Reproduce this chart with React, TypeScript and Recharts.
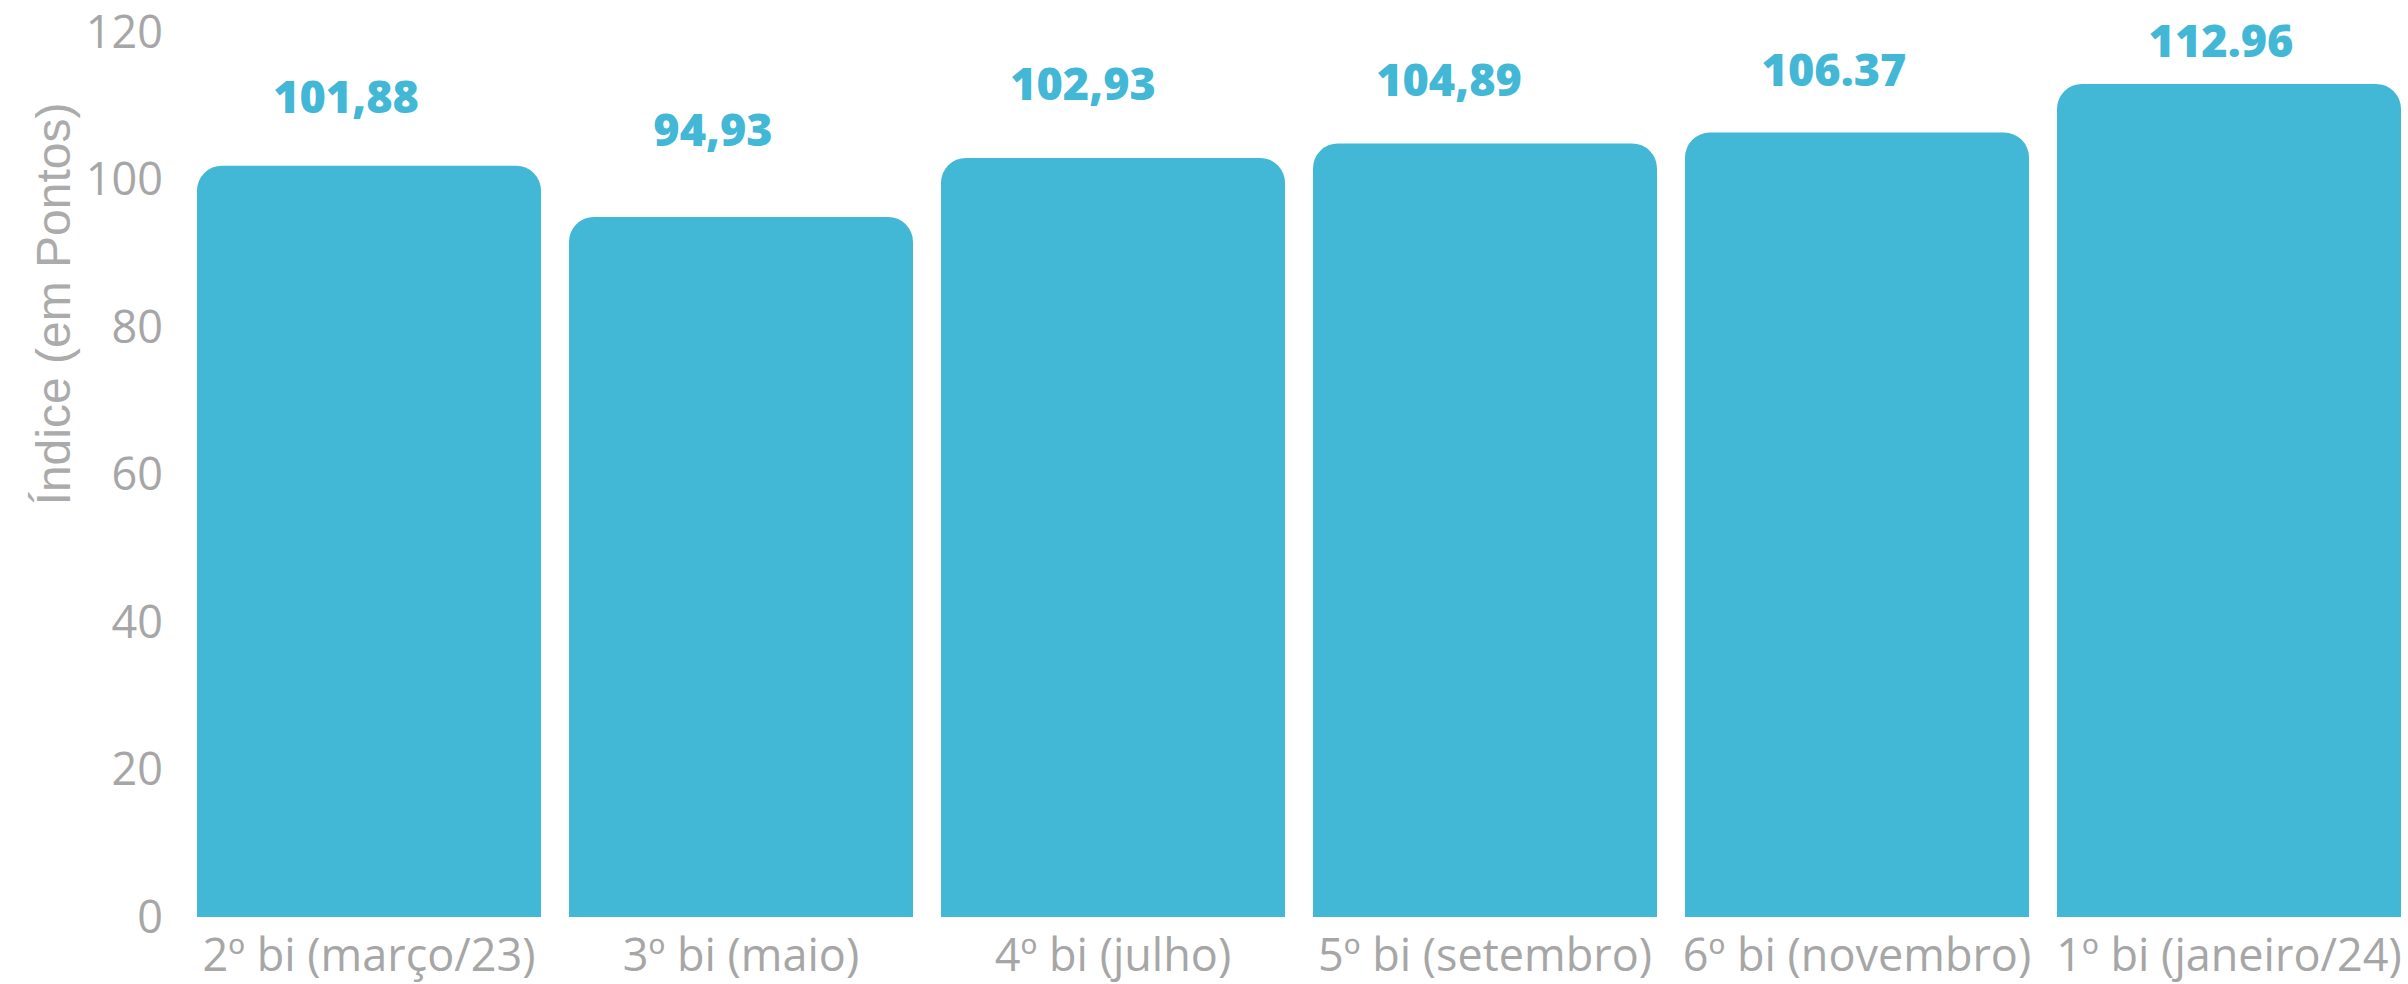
import React from 'react';
import { BarChart, Bar, XAxis, YAxis, LabelList } from 'recharts';

const periods = [
  '2º bi (março/23)',
  '3º bi (maio)',
  '4º bi (julho)',
  '5º bi (setembro)',
  '6º bi (novembro)',
  '1º bi (janeiro/24)',
];
const indexValues = [101.88, 94.93, 102.93, 104.89, 106.37, 112.96];
const valueLabels = ['101,88', '94,93', '102,93', '104,89', '106.37', '112.96'];
const yTicks = [0, 20, 40, 60, 80, 100, 120];

// the value labels in the original sit at uneven spots above the bars
const labelDx = [-23, -28, -30, -36, -23, -8];
const labelDy = [-53, -71, -58, -47, -47, -27];

const data = periods.map((period, i) => ({
  period,
  value: indexValues[i],
  label: valueLabels[i],
}));

const BLUE = '#42B7D6';
const GRAY = '#A6A6A6';
const FONT = '"Open Sans", sans-serif';

const ValueLabel = (props: any) => {
  const { x, y, width, value } = props;
  let i = props.index;
  if (typeof i !== 'number') i = valueLabels.indexOf(value);
  return (
    <text
      x={Number(x) + Number(width) / 2 + labelDx[i]}
      y={Number(y) + labelDy[i]}
      textAnchor="middle"
      fill={BLUE}
      fontFamily={FONT}
      fontWeight={800}
      fontSize={45}
    >
      {value}
    </text>
  );
};

const AxisTitle = (props: any) => {
  const vb = props.viewBox || { x: 0, y: 32 };
  const tx = vb.x + 70;
  const ty = vb.y + 272;
  return (
    <text
      x={tx}
      y={ty}
      transform={`rotate(-90, ${tx}, ${ty})`}
      textAnchor="middle"
      fill="#ABABAB"
      fontFamily='"Liberation Sans", Arial, sans-serif'
      fontSize={48}
    >
      Índice (em Pontos)
    </text>
  );
};

export default function App() {
  return (
    <div style={{ position: 'absolute', left: 0, top: 0, width: 2408, height: 984, overflow: 'hidden', background: '#fff' }}>
      <BarChart
        width={2415}
        height={984}
        data={data}
        margin={{ top: 32, right: 0, bottom: 0, left: 0 }}
        barCategoryGap={14}
      >
        <XAxis
          dataKey="period"
          axisLine={false}
          tickLine={false}
          height={67}
          tickMargin={16}
          interval={0}
          tick={{ fill: GRAY, fontSize: 45, fontFamily: FONT, fontWeight: 400 }}
        />
        <YAxis
          width={183}
          domain={[0, 120]}
          ticks={yTicks}
          axisLine={false}
          tickLine={false}
          tickMargin={14}
          tick={{ fill: GRAY, fontSize: 45, fontFamily: FONT, fontWeight: 400 }}
          label={{ content: AxisTitle }}
        />
        <Bar dataKey="value" fill={BLUE} radius={[25, 25, 0, 0]} isAnimationActive={false}>
          <LabelList dataKey="label" content={ValueLabel} />
        </Bar>
      </BarChart>
    </div>
  );
}
